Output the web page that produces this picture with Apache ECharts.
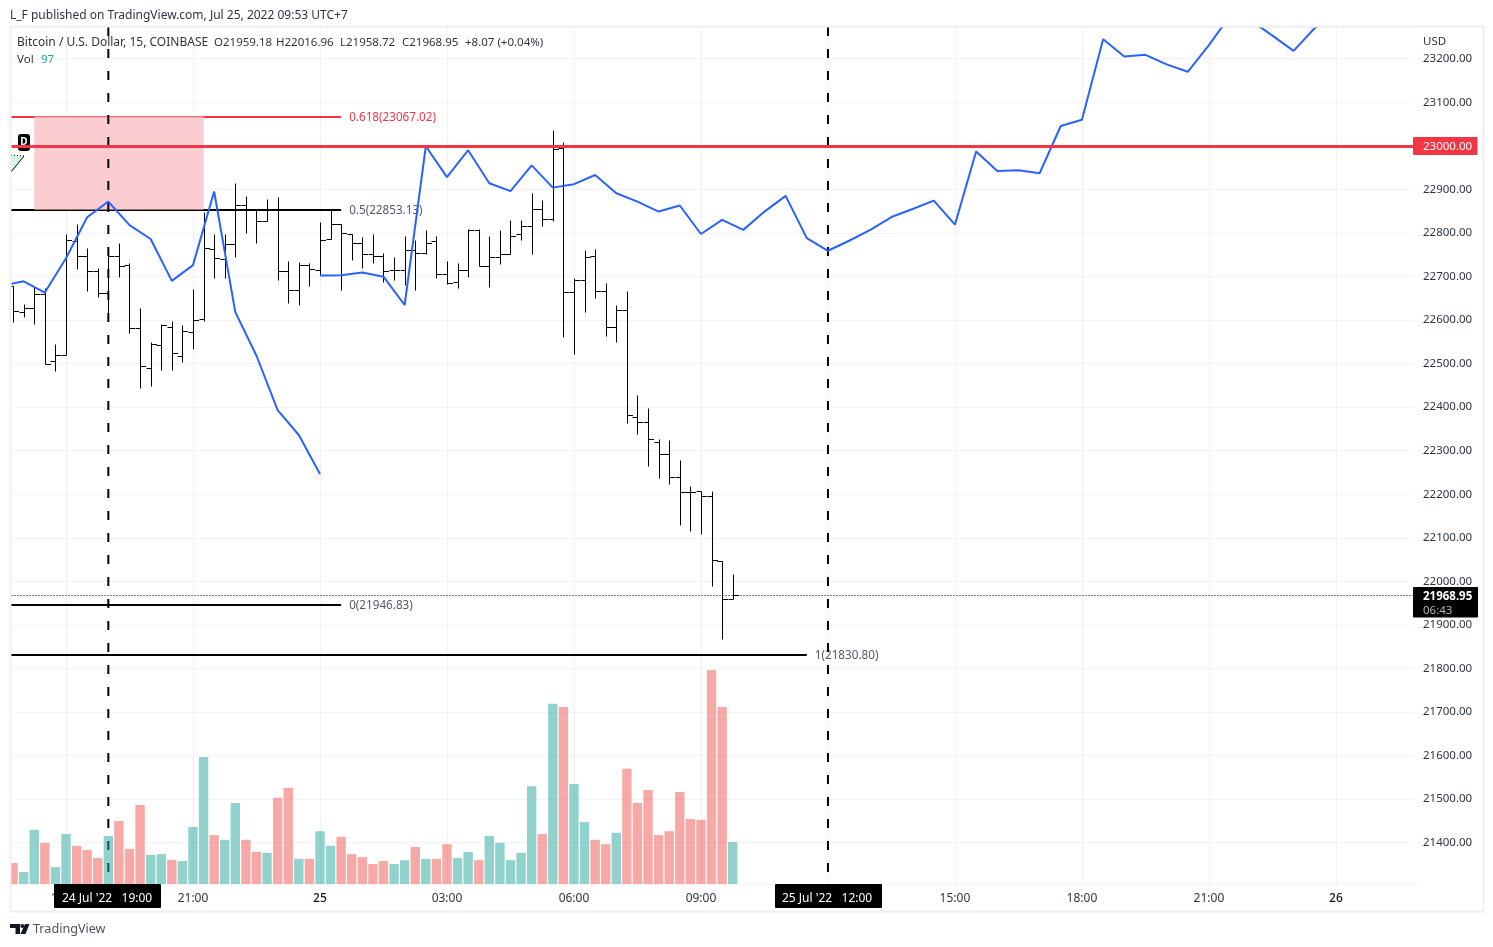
<!DOCTYPE html>
<html>
<head>
<meta charset="utf-8">
<title>BTCUSD</title>
<style>html,body{margin:0;padding:0;background:#fff}#c{width:1493px;height:947px}</style>
<script src="https://cdn.jsdelivr.net/npm/echarts@6/dist/echarts.min.js"></script>
</head>
<body>
<div id="c"></div>
<script>
// OHLC bars, first bar sits at axis position 1
const opens  = [22679,22619,22627,22660,22505,22520,22781,22746,22712,22662,22746,22726,22581,22489,22543,22585,22518,22572,22601.5,22762,22740,22774,22863,22854,22827,22854,22712,22668,22725.5,22715,22785,22820,22797,22776,22751,22746,22714,22716,22760,22753,22781,22705,22686.5,22716,22806,22723,22744,22751,22797,22817,22854,22831,22995,22663.5,22693,22746,22666,22583,22622,22376.5,22367,22321,22291.5,22239,22204,22207,22195,22046,21959.18];
const highs  = [22679,22636,22676.5,22673,22545,22797.5,22820,22765,22719,22767,22776,22732,22627,22550,22592,22598,22588.5,22671,22849,22797,22797.5,22914,22885,22856,22879,22882,22735.5,22734,22732,22824,22856,22820,22797,22791,22797,22755,22744,22792,22784,22806,22794,22735,22730,22808,22808,22792,22806,22829,22829,22891,22875.5,23036,23008,22696,22761,22763,22684,22634,22667,22429,22397,22326,22324,22278,22218,22208,22207,22046,22016.96];
const lows   = [22596,22608,22592,22498,22484,22520,22718,22667,22652,22615,22699.5,22571,22445,22449,22486,22486,22503,22534,22597,22696,22696,22745,22800.5,22778,22827,22693,22638,22635,22679,22703,22785,22668,22738,22720,22732,22686.5,22692,22680,22670,22751,22696,22683,22674,22699.5,22723,22676.5,22728.5,22751,22784,22752,22817,22826.5,22562,22523,22619,22651,22564,22550,22364,22339,22265.5,22238,22224,22130,22116,22109,21990,21867,21958.72];
const closes = [22621,22627,22660,22500,22520,22783,22746,22712,22662,22746,22724,22581,22494,22546,22588.5,22523.5,22574,22599,22765,22742,22774,22863,22853,22827,22854,22712,22668,22725.5,22718,22783,22820,22799,22776,22751,22746,22712,22716,22760,22755,22778,22705,22684,22716,22806,22723,22744,22751,22794,22817,22854,22831,22993,22663.5,22693,22744,22666,22583,22622,22381,22367,22326,22291.5,22239,22204,22204,22195,22048,21958.6,21968.95];

// Volume bars and their direction (u = up, d = down)
const volumes = [48.5,27.7,125,95,39,115.5,88,78.5,60,111,145.5,81,182.5,67,69,55.5,53,132,293,113,102,187,102,74,72,199,222,58,58,122,88,109,69,62,46,53,46,55,85.5,58,58,92,60,74,55,111,95,55,72,226,115.5,416,409,231,143,102,92,118,266,187,217,113,122,212.5,150,148,494,409,97];
const volDirs = ['d','u','u','d','u','u','d','d','d','u','d','d','d','u','u','d','u','u','u','d','u','u','d','d','u','d','d','u','d','u','u','d','d','d','d','d','u','u','d','u','d','d','u','u','d','u','u','u','u','u','d','u','d','u','u','d','d','u','d','d','d','d','d','d','d','d','d','d','u'];

// Blue drawn path: [axis position, price]
const pathA = [[0,22679],[2,22689],[4,22663],[6,22742],[8,22836],[10,22872],[12,22818],[14,22786],[16,22690],[18,22726],[20,22895],[22,22618],[24,22518],[26,22393],[28,22336],[30,22246.5]];
const pathB = [[30,22702],[32,22703],[34,22709],[36,22699.5],[38,22634.5],[40,22999],[42,22928],[44,22990],[46,22914],[48,22896],[50,22955],[52,22904],[54,22912],[56,22933],[58,22891],[60,22872],[62,22849],[64,22863],[66,22797.5],[68,22830],[70,22807],[72,22849],[74,22885],[76,22788],[78,22759],[80,22782],[82,22807],[84,22836.5],[86,22855],[88,22874],[90,22819],[92,22987],[94,22942],[96,22944],[98,22937],[100,23045.5],[102,23060],[104,23244.5],[106,23205],[108,23209],[110,23187],[112,23170],[114,23231],[116,23299],[118,23287],[120,23253],[122,23218],[124,23270.5],[126,23316]];

// Fibonacci levels
const fibLevels = [
  {name:'0.618', price:23067.02, end:32, color:'#f23645', text:'#f23645'},
  {name:'0.5',   price:22853.13, end:32, color:'#000000', text:'#555963'},
  {name:'0',     price:21946.83, end:32, color:'#000000', text:'#555963'},
  {name:'1',     price:21830.80, end:76, color:'#000000', text:'#555963'}
];
const zone = [[3,19,23067.02,22853.13]];
const lastPrice = 21968.95;
const keyLevel = 23000;
const verticalMarks = [10,78];
const priceMax = 23272.8, priceMin = 21305.1, dashBottom = 21332.6;

// Time axis: one slot per 15 minutes, from 16:30 on the 24th
const categories = [];
for (let k = 0; k <= 134; k++) {
  const m = 16*60 + 30 + k*15, day = 24 + Math.floor(m/1440), t = m % 1440;
  const hh = String(Math.floor(t/60)).padStart(2,'0'), mm = String(t%60).padStart(2,'0');
  categories.push(t === 0 ? String(day) : hh + ':' + mm);
}

const FONT = '"Noto Sans", sans-serif';
const INK = '#30343f';
const ohlcData = opens.map((o,j)=>[j+1,o,highs[j],lows[j],closes[j]]);
const volData = volumes.map((v,j)=>({value:[j+1,v],itemStyle:{color:volDirs[j]==='u'?'rgba(38,166,154,0.5)':'rgba(239,83,80,0.5)'}}));

function renderBar(params, api){
  const c = api.coord;
  const k = api.value(0);
  const x = Math.round(c([k,0])[0]) + 0.5;
  const y = v => Math.round(c([k,v])[1]) + 0.5;
  const st = {stroke:'#000',lineWidth:1,fill:null};
  return {type:'group',children:[
    {type:'line',shape:{x1:x,y1:y(api.value(2)),x2:x,y2:y(api.value(3))},style:st},
    {type:'line',shape:{x1:x-5,y1:y(api.value(1)),x2:x,y2:y(api.value(1))},style:st},
    {type:'line',shape:{x1:x,y1:y(api.value(4)),x2:x+5.5,y2:y(api.value(4))},style:st}
  ]};
}
function renderZone(params, api){
  const a = api.coord([api.value(0),api.value(2)]);
  const b = api.coord([api.value(1),api.value(3)]);
  return {type:'rect',shape:{x:a[0],y:a[1],width:b[0]-a[0],height:b[1]-a[1]},style:{fill:'rgba(251,192,196,0.8)'}};
}
// Horizontal level between two axis positions, snapped to the pixel grid, with an optional label
const levelSeries = (name,data,color,width,dash,z,label,labelColor)=>({
  name,type:'custom',data,z,silent:true,xAxisIndex:0,yAxisIndex:0,encode:{x:[0,1],y:2},clip:false,
  renderItem(params,api){
    const a = api.coord([api.value(0),api.value(2)]);
    const b = api.coord([api.value(1),api.value(2)]);
    const y = Math.round(a[1]) + (width%2 ? 0.5 : 0);
    const kids = [{type:'line',shape:{x1:a[0],y1:y,x2:b[0],y2:y},style:{stroke:color,lineWidth:width,lineDash:dash||null,fill:null}}];
    if (label) kids.push({type:'text',style:{x:b[0]+8,y:y+1,text:label,fill:labelColor,font:'11.7px '+FONT,textVerticalAlign:'middle'}});
    return {type:'group',children:kids};
  }
});
const flatLine = (name,data,color,width,type,z)=>({
  name,type:'line',data,z,symbol:'none',silent:true,animation:false,
  lineStyle:{color,width,type},xAxisIndex:0,yAxisIndex:0
});

const series = [];
fibLevels.forEach(f=>{
  series.push(levelSeries('fib '+f.name,[[0,f.end,f.price]],f.color,2,null,2,f.name+'('+f.price.toFixed(2)+')',f.text));
});
series.push({name:'zone',type:'custom',renderItem:renderZone,data:zone,z:3,silent:true,
  encode:{x:[0,1],y:[2,3]},xAxisIndex:0,yAxisIndex:0});
verticalMarks.forEach(k=>{
  series.push(flatLine('mark '+k,[[k,priceMax],[k,dashBottom]],'#000',2,[9,13],4));
});
series.push({name:'Vol',type:'bar',data:volData,barWidth:9.4,z:5,silent:true,xAxisIndex:0,yAxisIndex:1});
series.push({name:'BTCUSD',type:'custom',renderItem:renderBar,data:ohlcData,z:6,silent:true,
  encode:{x:0,y:[1,2,3,4]},xAxisIndex:0,yAxisIndex:0});
series.push(flatLine('path A',pathA,'#2962ff',2,'solid',7));
series.push(flatLine('path B',pathB,'#2962ff',2,'solid',7));
series.push(levelSeries('level',[[0,134,keyLevel]],'#f23645',3,null,8));
series.push(levelSeries('last',[[0,134,lastPrice]],'#000',1,[1,2],8));

const txt = (x,y,text,o)=>({type:'text',x,y:y+0.8,z:62,silent:true,style:Object.assign({
  text,fill:INK,font:'12px '+FONT,textVerticalAlign:'middle'},o||{})});
const box = (x,y,w,h,fill,z)=>({type:'rect',z:z||61,silent:true,shape:{x,y,width:w,height:h,r:1},style:{fill}});

const graphics = [
  box(0,0,10,947,'#fff',50),
  box(1414,27,7,857,'#fff',50),
  {type:'rect',z:60,silent:true,shape:{x:10.5,y:26.5,width:1473,height:885},style:{fill:null,stroke:'#eff0f5',lineWidth:2}},
  // price tags
  box(1413,137,64.5,18,'#f23645'),
  txt(1423,146,'23000.00',{fill:'#fff',font:'11.5px '+FONT}),
  box(1413,587,65,30.5,'#000'),
  txt(1423,595.5,'21968.95',{fill:'#fff',font:'bold 11.5px '+FONT}),
  txt(1423,609.5,'06:43',{fill:'#b2b5be',font:'11.5px '+FONT}),
  txt(1423,40.5,'USD',{font:'11.5px '+FONT}),
  // time tags
  box(54,884,107,24,'#000'),
  txt(62,898,"24 Jul '22   19:00",{fill:'#fff',font:'12px '+FONT}),
  box(775,884,107,24,'#000'),
  txt(782,898,"25 Jul '22   12:00",{fill:'#fff',font:'12px '+FONT}),
  // header
  txt(10,15,'L_F published on TradingView.com, Jul 25, 2022 09:53 UTC+7',{font:'12px '+FONT}),
  txt(17,41.5,'Bitcoin / U.S. Dollar, 15, COINBASE',{font:'12px '+FONT}),
  txt(214,41.5,'O21959.18',{font:'11.5px '+FONT}),
  txt(276,41.5,'H22016.96',{font:'11.5px '+FONT}),
  txt(340,41.5,'L21958.72',{font:'11.5px '+FONT}),
  txt(402,41.5,'C21968.95',{font:'11.5px '+FONT}),
  txt(465,41.5,'+8.07 (+0.04%)',{font:'11.5px '+FONT}),
  txt(17,58.5,'Vol',{font:'11.5px '+FONT}),
  txt(41,58.5,'97',{fill:'#26a69a',font:'11.5px '+FONT}),
  // tool badge
  {type:'rect',z:7,silent:true,shape:{x:18,y:134,width:12,height:17,r:3},style:{fill:'#000'}},
  {type:'text',z:7.5,silent:true,x:24,y:142,style:{text:'D',fill:'#fff',font:'bold 10px '+FONT,textAlign:'center',textVerticalAlign:'middle'}},
  {type:'polygon',z:7,silent:true,shape:{points:[[11,155],[24,156],[11,172]]},style:{fill:'#d5f5de'}},
  {type:'line',z:7,silent:true,shape:{x1:11,y1:172,x2:24,y2:156},style:{stroke:'#000',lineWidth:1}},
  {type:'line',z:7,silent:true,shape:{x1:11,y1:155,x2:24,y2:156},style:{stroke:'#000',lineWidth:1,lineDash:[1,2]}},
  // logo
  {type:'polygon',z:62,silent:true,shape:{points:[[10,924],[20,924],[20,934],[15.5,934],[15.5,928],[10,928]]},style:{fill:'#131722'}},
  {type:'circle',z:62,silent:true,shape:{cx:22.3,cy:926,r:2},style:{fill:'#131722'}},
  {type:'polygon',z:62,silent:true,shape:{points:[[25,924],[29.5,924],[25.5,934],[20.5,934]]},style:{fill:'#131722'}},
  txt(33,929,'TradingView',{fill:'#50535e',font:'12.6px '+FONT})
];

const chart = echarts.init(document.getElementById('c'),null,{renderer:'canvas'});
chart.setOption({
  animation:false,
  backgroundColor:'#fff',
  textStyle:{fontFamily:FONT},
  grid:{left:2.5,top:27,width:1418.1,height:857,containLabel:false},
  xAxis:{
    type:'category',data:categories,boundaryGap:false,
    axisLine:{show:false},axisTick:{show:false},
    axisLabel:{
      margin:9,fontFamily:FONT,fontSize:12,color:INK,
      interval:(i)=>(i-6)%12===0,
      formatter:(v)=>v.length===2?'{d|'+v+'}':v,
      rich:{d:{fontFamily:FONT,fontSize:12,color:'#131722',fontWeight:500}}
    },
    splitLine:{show:true,interval:(i)=>(i-6)%12===0,lineStyle:{color:'#f0f1f5',width:1}}
  },
  yAxis:[{
    type:'value',position:'right',scale:true,min:priceMin,max:priceMax,splitNumber:20,
    axisLine:{show:false},axisTick:{show:false},
    axisLabel:{margin:2.4,padding:[4,0,0,0],fontFamily:FONT,fontSize:11.5,color:INK,showMinLabel:false,showMaxLabel:false,
      formatter:(v)=>v.toFixed(2)},
    splitLine:{show:true,lineStyle:{color:'#f3f4f6',width:1}}
  },{
    type:'value',show:false,min:0,max:1979,splitLine:{show:false}
  }],
  series,
  graphic:{elements:graphics}
});
</script>
</body>
</html>
